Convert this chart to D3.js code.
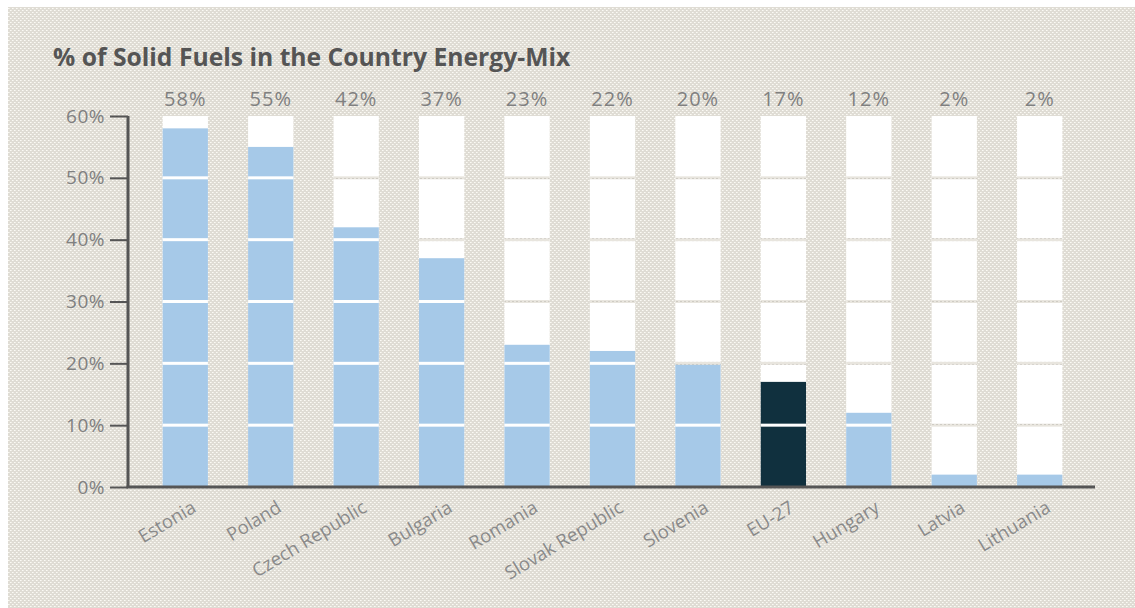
<!DOCTYPE html>
<html>
<head>
<meta charset="utf-8">
<script src="https://cdn.jsdelivr.net/npm/d3@7"></script>
<style>
  html, body { margin: 0; padding: 0; background: #fff; }
</style>
</head>
<body>
<div id="chart"></div>
<script>
// data
var countries = ["Estonia", "Poland", "Czech Republic", "Bulgaria", "Romania", "Slovak Republic", "Slovenia", "EU-27", "Hungary", "Latvia", "Lithuania"]
var shares = [58, 55, 42, 37, 23, 22, 20, 17, 12, 2, 2]
var yTicks = [0, 10, 20, 30, 40, 50, 60]
var highlight = "EU-27"

var width = 1135
var height = 608

var svg = d3.select("#chart").append("svg")
  .attr("width", width)
  .attr("height", height)

// textured background
var defs = svg.append("defs")
var pat = defs.append("pattern")
  .attr("id", "bg")
  .attr("width", 4).attr("height", 4)
  .attr("patternUnits", "userSpaceOnUse")
pat.append("rect").attr("width", 4).attr("height", 4).attr("fill", "#dfdcd4")
pat.append("rect").attr("x", 0).attr("y", 0).attr("width", 1).attr("height", 1).attr("fill", "#fbfaf5")
pat.append("rect").attr("x", 2).attr("y", 2).attr("width", 1).attr("height", 1).attr("fill", "#fbfaf5")
pat.append("rect").attr("x", 1).attr("y", 0).attr("width", 1).attr("height", 1).attr("fill", "#f0eee7")
pat.append("rect").attr("x", 3).attr("y", 2).attr("width", 1).attr("height", 1).attr("fill", "#f0eee7")

// dotted strip used where the grid cuts the empty part of a column
var gpat = defs.append("pattern")
  .attr("id", "gap")
  .attr("width", 4).attr("height", 3)
  .attr("patternUnits", "userSpaceOnUse")
gpat.append("rect").attr("width", 4).attr("height", 3).attr("fill", "#e8e5de")
gpat.append("rect").attr("x", 0).attr("y", 1).attr("width", 2).attr("height", 1).attr("fill", "#cfccc4")

svg.append("rect")
  .attr("x", 8).attr("y", 7)
  .attr("width", width - 8).attr("height", height - 7)
  .attr("fill", "url(#bg)")

// title
svg.append("text")
  .attr("x", 53).attr("y", 66)
  .style("font-family", "'Open Sans', sans-serif")
  .style("font-weight", "bold")
  .style("font-size", "24.7px")
  .attr("fill", "#555")
  .text("% of Solid Fuels in the Country Energy-Mix")

var x = d3.scaleBand()
  .domain(countries)
  .range([143, 1082])
  .paddingInner(0.47)
  .paddingOuter(0.23)

var y = d3.scaleLinear()
  .domain([0, 60])
  .range([487, 116])

var bars = svg.append("g")

// white column behind every bar
bars.selectAll("rect.col")
  .data(countries)
  .enter().append("rect")
  .attr("class", "col")
  .attr("x", function(d) { return x(d) })
  .attr("y", y(60))
  .attr("width", x.bandwidth())
  .attr("height", y(0) - y(60))
  .attr("fill", "#fff")

// value bars
bars.selectAll("rect.val")
  .data(countries)
  .enter().append("rect")
  .attr("class", "val")
  .attr("x", function(d) { return x(d) })
  .attr("y", function(d, i) { return y(shares[i]) })
  .attr("width", x.bandwidth())
  .attr("height", function(d, i) { return y(0) - y(shares[i]) })
  .attr("fill", function(d) { return d == highlight ? "#10303e" : "#a6c9e8" })

// grid gaps cut through the columns
var gaps = []
countries.forEach(function(c, i) {
  yTicks.forEach(function(t) {
    if (t > 0 && t < 60) gaps.push({c: c, t: t, inBar: t < shares[i]})
  })
})
bars.selectAll("rect.gap")
  .data(gaps)
  .enter().append("rect")
  .attr("class", "gap")
  .attr("x", function(d) { return x(d.c) })
  .attr("y", function(d) { return y(d.t) - 1.5 })
  .attr("width", x.bandwidth())
  .attr("height", 3)
  .attr("fill", function(d) { return d.inBar ? "#fff" : "url(#gap)" })

// value labels
svg.append("g").selectAll("text")
  .data(countries)
  .enter().append("text")
  .attr("x", function(d) { return x(d) + x.bandwidth() / 2 })
  .attr("y", 106)
  .attr("text-anchor", "middle")
  .style("font-family", "'Open Sans', sans-serif")
  .style("font-size", "20px")
  .style("letter-spacing", "1px")
  .attr("fill", "#808080")
  .text(function(d, i) { return shares[i] + "%" })

// y axis
var yAxis = svg.append("g")
  .attr("transform", "translate(128,0)")
  .call(d3.axisLeft(y).tickValues(yTicks).tickSize(18).tickPadding(5).tickFormat(function(d) { return d + "%" }))
yAxis.select(".domain").remove()
yAxis.selectAll(".tick line").attr("stroke", "#555").attr("stroke-width", 2)
yAxis.selectAll(".tick text")
  .attr("fill", "#808080")
  .style("font-family", "'Open Sans', sans-serif")
  .style("font-size", "19px")
  .style("letter-spacing", "0.5px")

svg.append("line")
  .attr("x1", 128).attr("x2", 128)
  .attr("y1", y(60)).attr("y2", y(0) + 1)
  .attr("stroke", "#555").attr("stroke-width", 3)

// x axis
var xAxis = svg.append("g")
  .attr("transform", "translate(0," + y(0) + ")")
  .call(d3.axisBottom(x).tickSize(0).tickPadding(0))
xAxis.select(".domain").remove()
xAxis.selectAll(".tick text")
  .attr("text-anchor", "end")
  .attr("dy", 0)
  .attr("transform", "translate(12,24) rotate(-31)")
  .attr("fill", "#8a8a8a")
  .style("font-family", "'Open Sans', sans-serif")
  .style("font-size", "18.5px")

svg.append("line")
  .attr("x1", 126.5).attr("x2", 1095)
  .attr("y1", y(0)).attr("y2", y(0))
  .attr("stroke", "#555").attr("stroke-width", 3)
</script>
</body>
</html>
